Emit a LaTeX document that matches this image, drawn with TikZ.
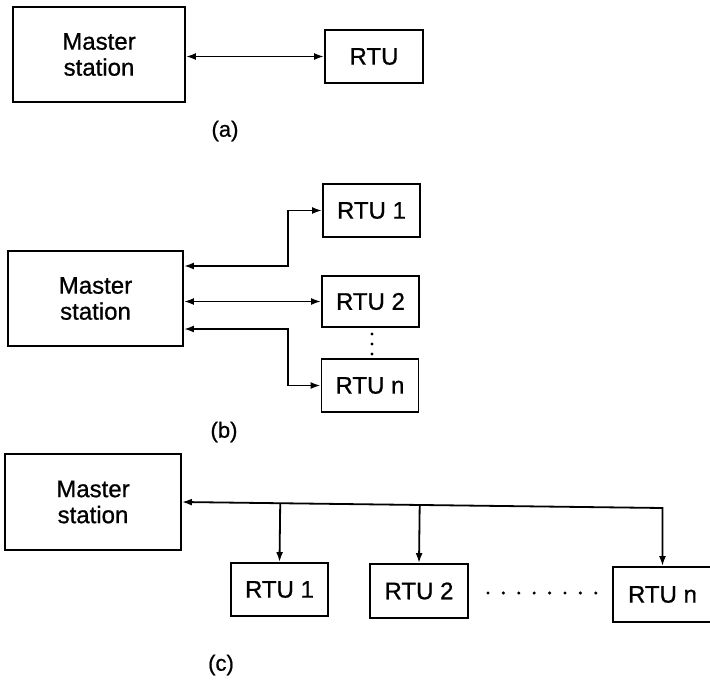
\documentclass[tikz,border=0pt]{standalone}
\usepackage{fontspec}
\setmainfont[FakeBold=0.8]{Liberation Sans}
\usetikzlibrary{arrows.meta,calc}
\begin{document}
\begin{tikzpicture}[x=1pt,y=-1pt,
  box/.style={draw,line width=1.9pt,inner sep=0pt,align=center,font=\fontsize{24}{26}\selectfont},
  rtu/.style={box,minimum width=97pt,minimum height=53pt},
  conn/.style={line width=1.8pt,{Latex[length=10pt,width=7pt]}-{Latex[length=10pt,width=7pt]}},
  down/.style={line width=1.8pt,-{Latex[length=10pt,width=7pt]}},
  sublabel/.style={font=\fontsize{22}{24}\selectfont},
  dotmark/.style={fill=black,draw=none}]
\useasboundingbox (0,0) rectangle (710,681);
% (a)
\node[box,minimum width=172pt,minimum height=95pt] (ma) at (99,54.5) {Master\\station};
\node[rtu,minimum width=98pt] (ra) at (374,56.5) {RTU};
\draw[conn] (ra.west -| ma.east) -- (ra.west);
\node[sublabel] (la) at (225,131) {(a)};
% (b)
\node[box,minimum width=175pt,minimum height=95pt] (mb) at (95.5,298.5) {Master\\station};
\node[rtu] (rb1) at (371.5,210.5) {RTU 1};
\node[rtu,minimum height=51pt] (rb2) at (370.5,301.5) {RTU 2};
\node[rtu] (rbn) at (370,385.5) {RTU n};
\draw[conn] ([yshift=32.5pt]mb.east) -- ++(104,0) |- (rb1.west);
\draw[conn] (rb2.west -| mb.east) -- (rb2.west);
\draw[conn] ([yshift=-30.5pt]mb.east) -- ++(104,0) |- (rbn.west);
\foreach \yy in {334,344,354} \fill[dotmark] (372,\yy) circle (1.6pt);
\node[sublabel] (lb) at (224,432) {(b)};
% (c)
\node[box,minimum width=176pt,minimum height=96pt] (mc) at (93,502) {Master\\station};
\node[rtu] (rc1) at (279.5,589.5) {RTU 1};
\node[rtu,minimum width=98pt,minimum height=54pt] (rc2) at (419,591) {RTU 2};
\node[rtu,minimum width=99pt,minimum height=55pt] (rcn) at (662.5,594.5) {RTU n};
\coordinate (busend) at (662.5,508);
\draw[conn] (mc.east) -- (busend) -- (rcn.north);
\draw[down] ($(mc.east)!(rc1.north)!(busend)$) -- (rc1.north);
\draw[down] ($(mc.east)!(rc2.north)!(busend)$) -- (rc2.north);
\foreach \i in {0,...,7} \fill[dotmark] (488+15.4*\i,593) circle (1.7pt);
\node[sublabel] (lc) at (221,665) {(c)};
\end{tikzpicture}
\end{document}
